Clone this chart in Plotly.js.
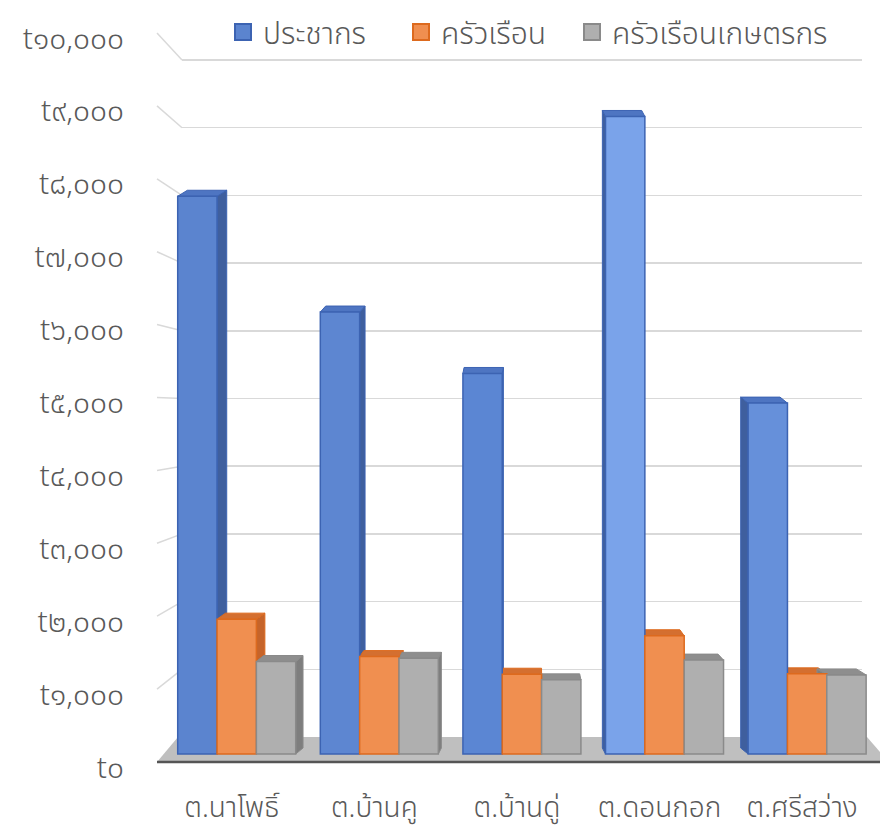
<!DOCTYPE html>
<html>
<head>
<meta charset="utf-8">
<script src="https://cdn.plot.ly/plotly-3.0.1.min.js"></script>
<style>
  html, body { margin: 0; padding: 0; background: #ffffff; }
  #chart { width: 880px; height: 832px; }
</style>
</head>
<body>
<div id="chart"></div>
<script>
// ---- Data ----
const categories = ['ต.นาโพธิ์', 'ต.บ้านคู', 'ต.บ้านดู่', 'ต.ดอนกอก', 'ต.ศรีสว่าง'];
const seriesNames = ['ประชากร', 'ครัวเรือน', 'ครัวเรือนเกษตรกร'];
const population = [7900, 6260, 5390, 9030, 4970];
const households = [1910, 1380, 1130, 1675, 1135];
const farmHouseholds = [1310, 1355, 1050, 1330, 1120];
const tickValues = [0, 1000, 2000, 3000, 4000, 5000, 6000, 7000, 8000, 9000, 10000];
const tickLabels = ['t๐', 't๑,๐๐๐', 't๒,๐๐๐', 't๓,๐๐๐', 't๔,๐๐๐', 't๕,๐๐๐',
                    't๖,๐๐๐', 't๗,๐๐๐', 't๘,๐๐๐', 't๙,๐๐๐', 't๑๐,๐๐๐'];

// ---- Styling / geometry ----
const W = 880, H = 832;
const FONT = 'Leelawadee UI, Leelawadee, Noto Sans Thai, Noto Sans Thai UI, Tahoma, sans-serif';
const TXT = '#595959';
const FW = 300;
const YB = 780, YT = 20;
const XL = 155, XR = 880;
const XRANGE = [-0.573, 4.511];
const PXU = (XR - XL) / (XRANGE[1] - XRANGE[0]);
const BARGAP = 0.1725;
const BARW = (1 - BARGAP) / 3;

const frontFill = ['#5B84CF', '#F08F50', '#AFAFAF'];
const popFills = ['#5B84CF', '#5D86D1', '#5B86D3', '#7AA3EA', '#6690DA'];
const edge = ['#3C63B2', '#DD6A1E', '#8A8A8A'];
const sideFill = ['#3F5F9E', '#C6642A', '#7E7E7E'];
const topFill = ['#4E75C2', '#D46F30', '#8E8E8E'];
const legendIds = ['legend', 'legend2', 'legend3'];
const legendPx = [223, 401, 572];

function px2x(x) { return x / W; }
function px2y(y) { return 1 - y / H; }
function range(zeroPx, per1000) {
  return [(zeroPx - YB) / per1000 * 1000, (zeroPx - YT) / per1000 * 1000];
}
const barRange = range(754, 70.6);
const wallRange = range(737, 67.7);
const labelRange = range(767, 72.9);

const values = [population, households, farmHouseholds];

// ---- Traces ----
const traces = [];
traces.push({ type: 'scatter', x: [null], y: [null], xaxis: 'x', yaxis: 'y',
  showlegend: false, hoverinfo: 'skip' });

values.forEach((vals, j) => {
  traces.push({
    type: 'bar', name: seriesNames[j], x: categories, y: vals,
    xaxis: 'x2', yaxis: 'y2', showlegend: false,
    marker: { color: j === 0 ? popFills : frontFill[j], line: { color: edge[j], width: 1.5 } }
  });
});
values.forEach((vals, j) => {
  traces.push({
    type: 'scatter', mode: 'markers', name: seriesNames[j], x: [null], y: [null],
    xaxis: 'x2', yaxis: 'y3', hoverinfo: 'skip', legend: legendIds[j],
    marker: { symbol: 'square', size: 20, color: frontFill[j], line: { color: edge[j], width: 2 } }
  });
});

// ---- Decorative shapes ----
const shapes = [];
function P(x, y) { return px2x(x).toFixed(5) + ',' + px2y(y).toFixed(5); }
shapes.push({ type: 'path', xref: 'paper', yref: 'paper', layer: 'below',
  path: 'M' + P(157, 762) + 'L' + P(178, 737) + 'L' + P(867, 737) + 'L' + P(880, 752) + 'L' + P(880, 762) + 'Z',
  fillcolor: '#BFBFBF', line: { width: 0 } });
shapes.push({ type: 'line', xref: 'paper', yref: 'paper', layer: 'below',
  x0: px2x(157), y0: px2y(762), x1: px2x(880), y1: px2y(762),
  line: { color: '#555555', width: 2.5 } });
tickValues.slice(1).forEach(v => {
  const fy = 762 - v * 72.9 / 1000;
  const by = 737 - v * 67.7 / 1000;
  shapes.push({ type: 'line', xref: 'paper', yref: 'paper', layer: 'below',
    x0: px2x(157), y0: px2y(fy), x1: px2x(182), y1: px2y(by),
    line: { color: '#D9D9D9', width: 1.5 } });
});
const dyU = 6 / 70.6 * 1000;
values.forEach((vals, j) => {
  vals.forEach((v, i) => {
    const x0 = i - (1 - BARGAP) / 2 + j * BARW;
    const x1 = x0 + BARW;
    const cpx = XL + ((x0 + x1) / 2 - XRANGE[0]) * PXU;
    const dxU = ((520 - cpx) * 0.03) / PXU;
    const pt = (x, y) => x.toFixed(5) + ',' + y.toFixed(2);
    let sp;
    if (dxU >= 0) {
      sp = 'M' + pt(x1, 0) + 'L' + pt(x1, v) + 'L' + pt(x1 + dxU, v + dyU) + 'L' + pt(x1 + dxU, dyU) + 'Z';
    } else {
      sp = 'M' + pt(x0, 0) + 'L' + pt(x0, v) + 'L' + pt(x0 + dxU, v + dyU) + 'L' + pt(x0 + dxU, dyU) + 'Z';
    }
    shapes.push({ type: 'path', xref: 'x2', yref: 'y2', layer: 'below', path: sp,
      fillcolor: sideFill[j], line: { color: edge[j], width: 1 } });
    const tp = 'M' + pt(x0, v) + 'L' + pt(x1, v) + 'L' + pt(x1 + dxU, v + dyU) + 'L' + pt(x0 + dxU, v + dyU) + 'Z';
    shapes.push({ type: 'path', xref: 'x2', yref: 'y2', layer: 'below', path: tp,
      fillcolor: topFill[j], line: { color: edge[j], width: 1 } });
  });
});

const ydom = [px2y(YB), px2y(YT)];
const tf = (s) => ({ family: FONT, size: s, color: TXT, weight: FW });

const layout = {
  width: W, height: H,
  margin: { l: 0, r: 0, t: 0, b: 0, autoexpand: false },
  paper_bgcolor: '#ffffff', plot_bgcolor: 'rgba(0,0,0,0)',
  font: tf(29),
  hovermode: false,
  showlegend: true,
  barmode: 'group', bargap: BARGAP, bargroupgap: 0,
  xaxis: { domain: [px2x(182), px2x(862)], range: [0, 1], visible: false, fixedrange: true },
  yaxis: { domain: ydom, range: wallRange, anchor: 'x', showgrid: true, gridcolor: '#D9D9D9', gridwidth: 1.5,
    tickvals: tickValues.slice(1), showticklabels: false, ticks: '', showline: false, zeroline: false, fixedrange: true },
  xaxis2: { domain: [px2x(XL), px2x(XR)], anchor: 'y2', type: 'category', range: XRANGE,
    showgrid: false, showline: false, zeroline: false, ticks: '', ticklabelstandoff: 8, ticklabelshift: -5,
    tickfont: tf(28), fixedrange: true },
  yaxis2: { domain: ydom, range: barRange, anchor: 'x2', visible: false, fixedrange: true },
  yaxis3: { domain: ydom, range: labelRange, overlaying: 'y2', anchor: 'free', position: px2x(124), side: 'left',
    tickvals: tickValues, ticktext: tickLabels, showgrid: false, zeroline: false, showline: false, ticks: '',
    tickfont: tf(30), fixedrange: true },
  shapes: shapes
};
legendIds.forEach((id, j) => {
  layout[id] = { orientation: 'h', x: px2x(legendPx[j]), xanchor: 'left', y: px2y(6), yanchor: 'top',
    font: tf(30), bgcolor: 'rgba(0,0,0,0)', itemclick: false };
});

Plotly.newPlot('chart', traces, layout, { staticPlot: true, displayModeBar: false });
</script>
</body>
</html>
